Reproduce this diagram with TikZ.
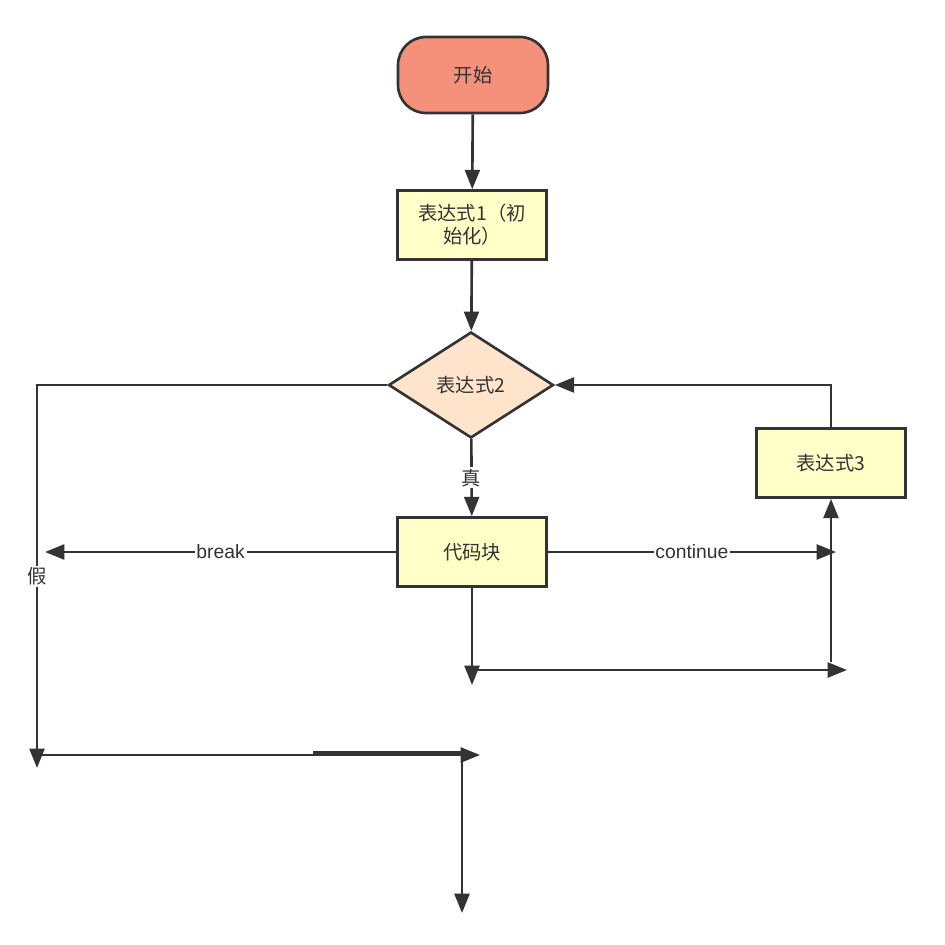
\documentclass[tikz,border=0pt]{standalone}
\usepackage{fontspec}
\setmainfont{Liberation Sans}
\newfontfamily\cjk{Noto Sans CJK SC}
\usepackage{xcolor}
\usepackage{tikz}
\usetikzlibrary{
  arrows.meta,
  positioning,
  shapes.geometric
}
\definecolor{startfill}{HTML}{F5917A}
\definecolor{boxfill}{HTML}{FFFFC8}
\definecolor{condfill}{HTML}{FFE4CC}
\definecolor{linecol}{HTML}{333333}

\begin{document}
\begin{tikzpicture}[
  x=0.02cm, y=-0.02cm,
  every node/.style={font=\fontsize{11}{13}\selectfont\cjk, text=linecol},
  base/.style={draw=linecol, line width=1.5pt},
  box/.style={base, fill=boxfill, minimum width=2.98cm, minimum height=1.38cm, align=center},
  term/.style={base, fill=startfill, minimum width=3cm, minimum height=1.52cm, rounded corners=0.56cm},
  cond/.style={base, diamond, fill=condfill, minimum width=3.3cm, minimum height=2.12cm, inner sep=0pt},
  flow/.style={draw=linecol, line width=1.5pt, -{Triangle[length=11pt,width=8.5pt]}},
  wire/.style={draw=linecol, line width=1.5pt},
  lbl/.style={fill=white, inner sep=1pt, font=\fontsize{11}{13}\selectfont},
]
  \useasboundingbox (0,0) rectangle (944,945);

  % Nodes
  \node[term] (start) at (473,75) {开始};
  \node[box] (init) at (472,225) {表达式1（初\\始化）};
  \node[cond] (test) at (471,385) {表达式2};
  \node[box] (body) at (472,552) {代码块};
  \node[box] (incr) at (831,463) {表达式3};

  % Free ends
  \coordinate (falseCorner) at (37,385);
  \coordinate (falseEnd) at (37,768);
  \coordinate (breakEnd) at (45,552);
  \coordinate (contEnd) at (836,552);
  \coordinate (bodyEnd) at (472,685);
  \coordinate (joinStart) at (478,670);
  \coordinate (joinEnd) at (847,670);
  \coordinate (incrIn) at (831,662);
  \coordinate (exitStart) at (37,755);
  \coordinate (exitEnd) at (480,755);
  \coordinate (exitThickA) at (313,753.5);
  \coordinate (exitThickB) at (466,753.5);
  \coordinate (downStart) at (462,757);
  \coordinate (downEnd) at (462,913);

  % Main flow
  \draw[flow] (start) -- (init);
  \draw[flow] (init) -- (test);
  \draw[flow] (test) -- node[lbl, font=\fontsize{11}{13}\selectfont\cjk] {真} (body);
  \draw[flow] (test.west) -- (falseCorner) -- node[lbl, font=\fontsize{11}{13}\selectfont\cjk] {假} (falseEnd);

  % Loop body
  \draw[flow] (body.west) -- node[lbl] {break} (breakEnd);
  \draw[flow] (body.east) -- node[lbl] {continue} (contEnd);
  \draw[flow] (incr.north) |- (test.east);
  \draw[flow] (incrIn) -- (incr.south);
  \draw[flow] (body.south) -- (bodyEnd);
  \draw[flow] (joinStart) -- (joinEnd);

  % Exit
  \draw[flow] (exitStart) -- (exitEnd);
  \draw[wire, line width=2.3pt] (exitThickA) -- (exitThickB);
  \draw[flow] (downStart) -- (downEnd);
\end{tikzpicture}
\end{document}
